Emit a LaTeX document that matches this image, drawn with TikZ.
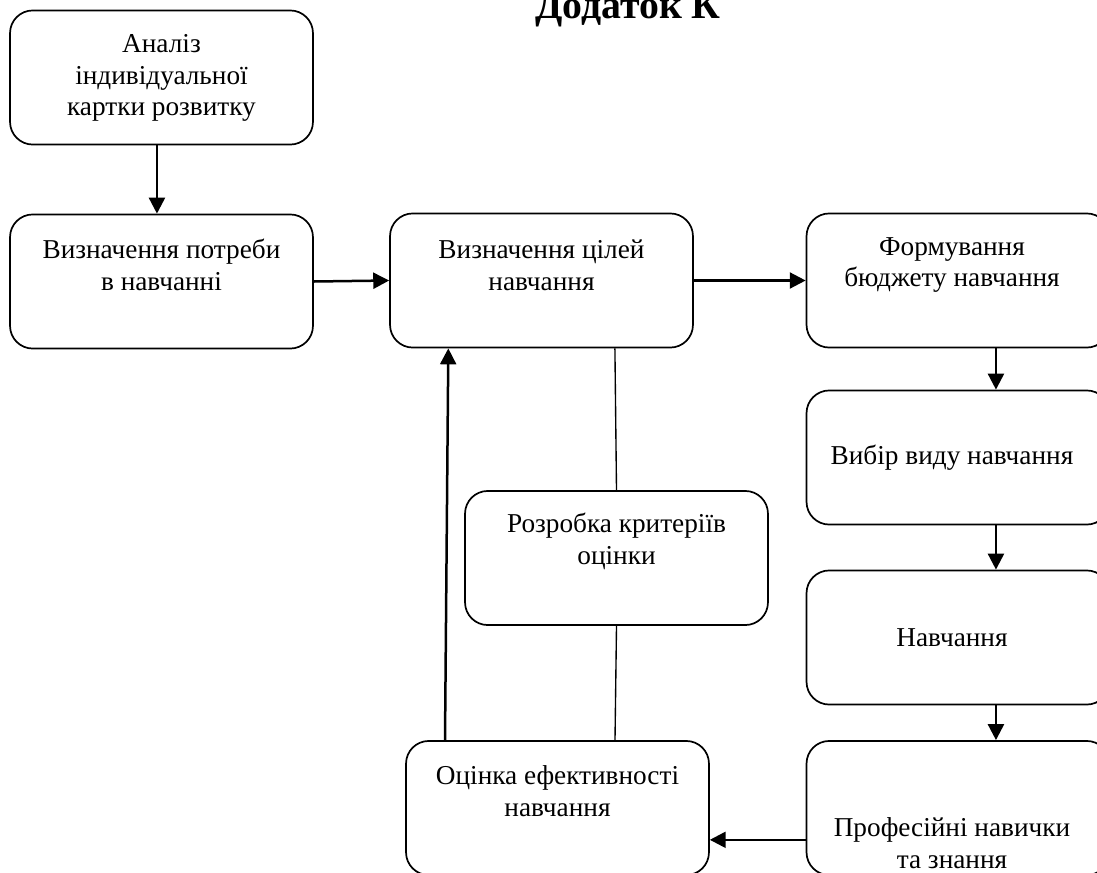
\documentclass[tikz,border=0pt]{standalone}
\usepackage{fontspec}
\setmainfont{Liberation Serif}
\usetikzlibrary{positioning,arrows.meta}

\tikzset{
  box/.style={draw,line width=0.75pt,rounded corners=10pt,minimum width=133.3pt,minimum height=59pt,inner sep=0pt},
  txt/.style={align=center,inner sep=0pt,font=\fontsize{12}{14}\selectfont},
  arr/.style={line width=1.1pt,-{Triangle[length=7pt,width=7pt]}},
  link/.style={line width=0.6pt}
}

\begin{document}
\begin{tikzpicture}[x=0.44pt,y=-0.44pt]
\useasboundingbox (0,0) rectangle (1097,872);

\node[anchor=base,font=\fontsize{17.5}{20}\bfseries\selectfont] (title) at (628,18) {Додаток К};

\node[box] (analiz) at (161.5,77.5) {};
\node[box] (potreba) at (161.5,281.5) {};
\node[box] (tsili) at (541.5,280.5) {};
\node[box] (budzhet) at (958,280.5) {};
\node[box] (vybir) at (958,457.5) {};
\node[box] (navch) at (958,637.5) {};
\node[box] (navychky) at (958,808) {};
\node[box] (otsinka) at (557.5,808) {};
\node[box] (kryterii) at (616.5,558) {};

\node[txt] (analiz-t) at (161.5,78) {Аналіз\\індивідуальної\\картки розвитку};
\node[txt] (potreba-t) at (161.5,265) {Визначення потреби\\в навчанні};
\node[txt] (tsili-t) at (541.5,265) {Визначення цілей\\навчання};
\node[txt] (budzhet-t) at (952,265) {Формування\\бюджету навчання};
\node[txt] (vybir-t) at (952,458) {Вибір виду навчання};
\node[txt] (navch-t) at (952,638) {Навчання};
\node[txt] (navychky-t) at (952,843) {Професійні навички\\та знання};
\node[txt] (otsinka-t) at (557.5,791) {Оцінка ефективності\\навчання};
\node[txt] (kryterii-t) at (616.5,541) {Розробка критеріїв\\оцінки};

\draw[arr] ([xshift=-2pt]analiz.south) -- ([xshift=-2pt]potreba.north);
\draw[arr] (potreba.east) -- (tsili.west);
\draw[arr] (tsili.east) -- (budzhet.west);
\draw[arr] ([xshift=16.7pt]budzhet.south) -- ([xshift=16.7pt]vybir.north);
\draw[arr] ([xshift=16.7pt]vybir.south) -- ([xshift=16.7pt]navch.north);
\draw[arr] ([xshift=16.7pt]navch.south) -- ([xshift=16.7pt]navychky.north);
\draw[arr] ([yshift=-14pt]navychky.west) -- ([yshift=-14pt]otsinka.east);
\draw[arr] ([xshift=-49.5pt]otsinka.north) -- ([xshift=-41pt]tsili.south);

\draw[link] ([xshift=32.3pt]tsili.south) -- (kryterii.north);
\draw[link] (kryterii.south) -- ([xshift=25.3pt]otsinka.north);

\end{tikzpicture}
\end{document}
